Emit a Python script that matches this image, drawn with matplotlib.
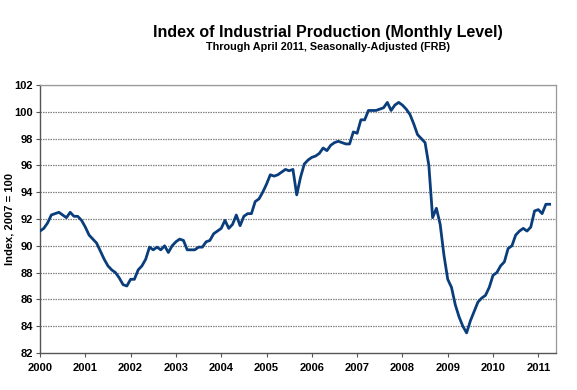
import matplotlib
matplotlib.use("Agg")
import matplotlib.pyplot as plt
import numpy as np

plt.rcParams['font.family'] = ['Liberation Sans', 'DejaVu Sans']

start_year = 2000
values = [
    # 2000
    91.1, 91.3, 91.7, 92.3, 92.4, 92.5, 92.3, 92.1, 92.5, 92.2, 92.2, 91.9,
    # 2001
    91.4, 90.8, 90.5, 90.2, 89.6, 89.0, 88.5, 88.2, 88.0, 87.6, 87.1, 87.0,
    # 2002
    87.5, 87.5, 88.2, 88.5, 89.0, 89.9, 89.7, 89.9, 89.7, 90.0, 89.5, 90.0,
    # 2003
    90.3, 90.5, 90.4, 89.7, 89.7, 89.7, 89.9, 89.9, 90.3, 90.4, 90.9, 91.1,
    # 2004
    91.3, 91.9, 91.3, 91.6, 92.3, 91.5, 92.2, 92.4, 92.4, 93.3, 93.5, 94.0,
    # 2005
    94.6, 95.3, 95.2, 95.3, 95.5, 95.7, 95.6, 95.7, 93.8, 95.1, 96.1, 96.4,
    # 2006
    96.6, 96.7, 96.9, 97.3, 97.1, 97.5, 97.7, 97.8, 97.7, 97.6, 97.6, 98.5,
    # 2007
    98.4, 99.4, 99.4, 100.1, 100.1, 100.1, 100.2, 100.3, 100.7, 100.1, 100.5, 100.7,
    # 2008
    100.5, 100.2, 99.8, 99.1, 98.3, 98.0, 97.7, 96.0, 92.1, 92.8, 91.6, 89.3,
    # 2009
    87.5, 86.9, 85.6, 84.7, 84.0, 83.5, 84.4, 85.1, 85.8, 86.1, 86.3, 86.9,
    # 2010
    87.8, 88.0, 88.5, 88.8, 89.8, 90.0, 90.8, 91.1, 91.3, 91.1, 91.4, 92.6,
    # 2011
    92.7, 92.4, 93.1, 93.1,
]
year_ticks = list(range(2000, 2012))
y_ticks = list(range(82, 103, 2))

title = "Index of Industrial Production (Monthly Level)"
subtitle = "Through April 2011, Seasonally-Adjusted (FRB)"
ylabel = "Index, 2007 = 100"

dates = start_year + np.arange(len(values)) / 12.0

fig = plt.figure(figsize=(5.77, 3.90), dpi=100)
ax = fig.add_axes([40/577, 1-353/390, (556-40)/577, (353-85)/390])

ax.plot(dates, values, color='#0A3D7C', lw=2.0, solid_joinstyle='round', zorder=3)

ax.set_xlim(2000, 2011.39)
ax.set_ylim(82, 102)
ax.set_xticks(year_ticks)
ax.set_xticklabels([str(y) for y in year_ticks], fontsize=8, fontweight='bold')
ax.set_yticks(y_ticks)
ax.set_yticklabels([str(v) for v in y_ticks], fontsize=8, fontweight='bold')

for v in y_ticks[1:]:
    ax.axhline(v, color='#808080', lw=0.9, ls=(0, (1.2, 0.8)), zorder=1)

for s in ['top', 'right']:
    ax.spines[s].set_color('#999999')
    ax.spines[s].set_linestyle((0, (1.2, 0.8)))
    ax.spines[s].set_linewidth(0.9)
for s in ['left', 'bottom']:
    ax.spines[s].set_color('#555555')
    ax.spines[s].set_linewidth(1.0)

ax.tick_params(axis='both', direction='out', length=3, width=0.8, color='#555555', pad=2)
ax.tick_params(axis='x', pad=4)

ax.set_ylabel(ylabel, fontsize=8, fontweight='bold', labelpad=0)

fig.text(328/577, 1-33/390, title, ha='center', va='center', fontsize=11.5, fontweight='bold')
fig.text(328/577, 1-47/390, subtitle, ha='center', va='center', fontsize=7.8, fontweight='bold')

fig.savefig('out.png', dpi=100)
